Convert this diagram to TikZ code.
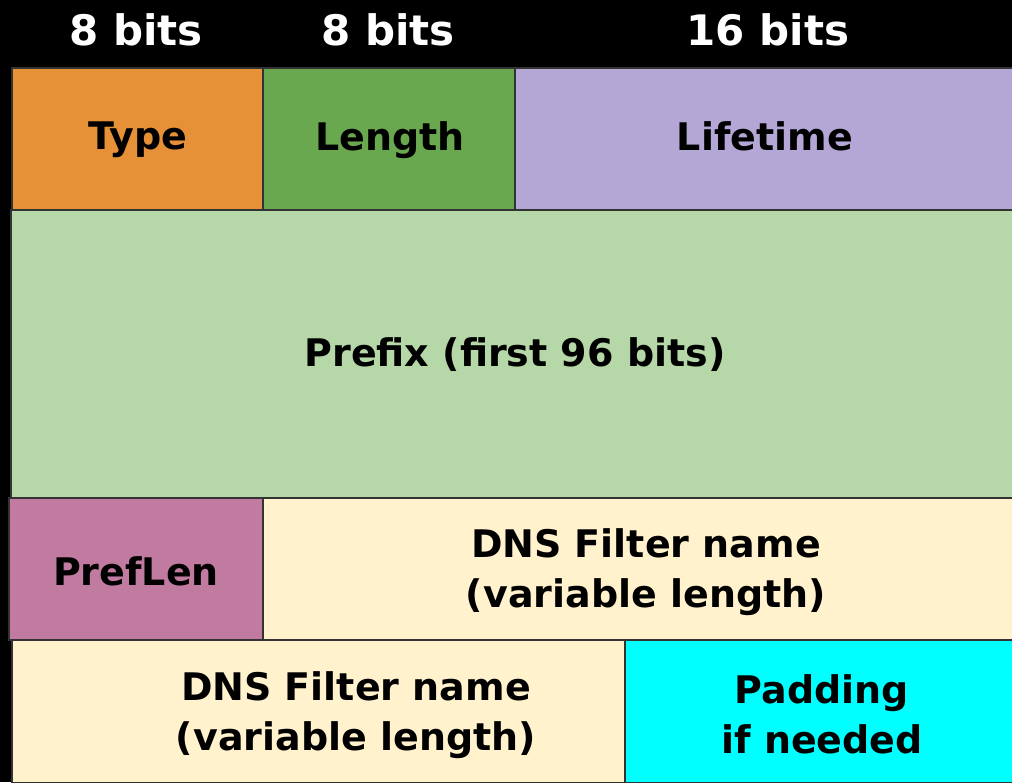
\documentclass[tikz,border=0pt]{standalone}
\usepackage{fontspec}
\setmainfont{DejaVu Sans}
\begin{document}
\begin{tikzpicture}[x=1pt,y=-1pt,
  field/.style={draw=black!80,line width=1.2pt},
  lbl/.style={text=black,font=\bfseries\fontsize{38}{50}\selectfont,align=center,inner sep=0pt},
  hdr/.style={text=white,font=\bfseries\fontsize{42}{50}\selectfont,inner sep=0pt}]
\definecolor{ctype}{HTML}{E69138}
\definecolor{clen}{HTML}{6AA84F}
\definecolor{clife}{HTML}{B4A7D6}
\definecolor{cpfx}{HTML}{B6D7A8}
\definecolor{cplen}{HTML}{C27BA0}
\definecolor{cdns}{HTML}{FFF2CC}
\definecolor{cpad}{HTML}{00FFFF}
% background
\fill[black] (0,0) rectangle (1012,782);
\useasboundingbox (0,0) rectangle (1012,782);
% header
\node[hdr] (h1) at (136,30) {8 bits};
\node[hdr] (h2) at (388,30) {8 bits};
\node[hdr] (h3) at (768,30) {16 bits};
% row 1
\filldraw[field,fill=ctype] (12,68) rectangle (263,210);
\filldraw[field,fill=clen] (263,68) rectangle (515,210);
\filldraw[field,fill=clife] (515,68) rectangle (1013,210);
\node[lbl] (type) at (138,140) {Type};
\node[lbl] (len) at (390,140) {Length};
\node[lbl] (life) at (765,136) {Lifetime};
% row 2
\filldraw[field,fill=cpfx] (11,210) rectangle (1013,498);
\node[lbl] (pfx) at (515,355) {Prefix (first 96 bits)};
% row 3
\filldraw[field,fill=cplen] (9,498) rectangle (263,640);
\filldraw[field,fill=cdns] (263,498) rectangle (1013,640);
\node[lbl] (plen) at (136,571) {PrefLen};
\node[lbl] (dns1) at (646,572) {DNS Filter name\\(variable length)};
% row 4
\filldraw[field,fill=cdns] (12,640) rectangle (625,783);
\filldraw[field,fill=cpad] (625,640) rectangle (1013,783);
\node[lbl] (dns2) at (356,715) {DNS Filter name\\(variable length)};
\node[lbl] (pad) at (822,714) {Padding\\if needed};
\end{tikzpicture}
\end{document}
